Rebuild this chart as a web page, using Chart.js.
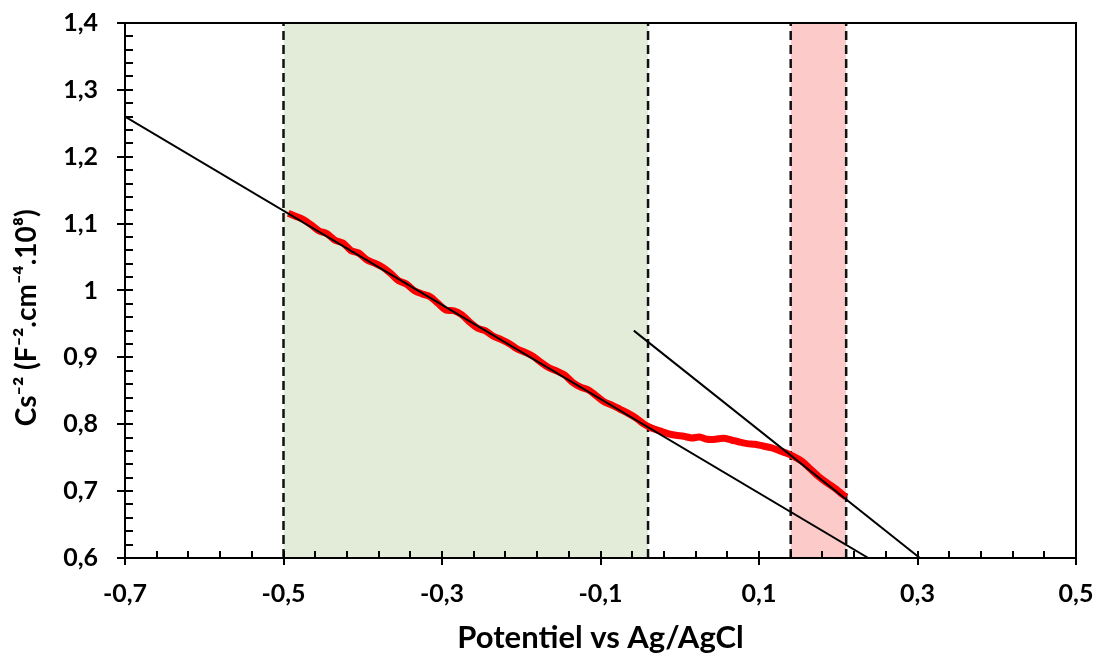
<!DOCTYPE html>
<html>
<head>
<meta charset="utf-8">
<script src="https://cdn.jsdelivr.net/npm/chart.js@4"></script>
<style>
  html, body { margin: 0; padding: 0; background: #fff; }
  #wrap { width: 1102px; height: 661px; }
</style>
</head>
<body>
<div id="wrap"><canvas id="mottChart"></canvas></div>
<script>
// measured curve (Mott-Schottky)
const potential = [-0.494, -0.485, -0.475, -0.465, -0.455, -0.445, -0.435, -0.425, -0.415, -0.405,
  -0.395, -0.385, -0.375, -0.365, -0.355, -0.345, -0.335, -0.325, -0.315, -0.305,
  -0.295, -0.285, -0.275, -0.265, -0.255, -0.245, -0.235, -0.225, -0.215, -0.205,
  -0.195, -0.185, -0.175, -0.165, -0.155, -0.145, -0.135, -0.125, -0.115, -0.105,
  -0.095, -0.085, -0.075, -0.065, -0.055, -0.045, -0.035, -0.025, -0.015, -0.005,
  0.005, 0.015, 0.025, 0.035, 0.045, 0.055, 0.065, 0.075, 0.085, 0.095,
  0.105, 0.115, 0.125, 0.135, 0.145, 0.155, 0.165, 0.175, 0.185, 0.195, 0.205, 0.210];
const csMinus2 = [1.1154, 1.1111, 1.1061, 1.0980, 1.0890, 1.0850, 1.0750, 1.0710, 1.0599, 1.0559,
  1.0459, 1.0409, 1.0349, 1.0258, 1.0148, 1.0098, 0.9998, 0.9948, 0.9907, 0.9807,
  0.9707, 0.9697, 0.9637, 0.9526, 0.9436, 0.9396, 0.9316, 0.9266, 0.9205, 0.9125,
  0.9075, 0.9015, 0.8925, 0.8844, 0.8794, 0.8734, 0.8624, 0.8554, 0.8513, 0.8423,
  0.8333, 0.8283, 0.8223, 0.8162, 0.8092, 0.8002, 0.7940, 0.7900, 0.7860, 0.7835,
  0.7820, 0.7795, 0.7810, 0.7775, 0.7775, 0.7790, 0.7765, 0.7735, 0.7710, 0.7700,
  0.7675, 0.7650, 0.7610, 0.7565, 0.7510, 0.7440, 0.7330, 0.7220, 0.7130, 0.7050, 0.6955, 0.6910];

// linear fits
const fit1X = [-0.7, 0.238];
const fit1Y = [1.26, 0.6];
const fit2X = [-0.058, 0.303];
const fit2Y = [0.94, 0.6];

// highlighted potential windows
const greenZone = [-0.5, -0.04];
const redZone = [0.14, 0.21];

const xTickValues = [-0.7, -0.5, -0.3, -0.1, 0.1, 0.3, 0.5];
const xTickLabels = ["-0,7", "-0,5", "-0,3", "-0,1", "0,1", "0,3", "0,5"];
const yTickValues = [0.6, 0.7, 0.8, 0.9, 1.0, 1.1, 1.2, 1.3, 1.4];
const yTickLabels = ["0,6", "0,7", "0,8", "0,9", "1", "1,1", "1,2", "1,3", "1,4"];

const FONT = "Lato, 'Open Sans', sans-serif";

function pts(xs, ys) {
  return xs.map((x, i) => ({ x: x, y: ys[i] }));
}
function zoneFill(z, color) {
  return {
    data: [{ x: z[0], y: 1.4 }, { x: z[1], y: 1.4 }],
    showLine: true, fill: "start", backgroundColor: color,
    borderWidth: 0, pointRadius: 0, order: 10
  };
}
function dashLine(x) {
  return {
    data: [{ x: x, y: 0.6 }, { x: x, y: 1.4 }],
    showLine: true, borderColor: "#111", borderWidth: 2.5, borderDash: [9, 5],
    pointRadius: 0, order: 8
  };
}
function minorSteps(min, max, step) {
  const out = [];
  const n = Math.round((max - min) / step);
  for (let i = 0; i <= n; i++) out.push(+(min + i * step).toFixed(3));
  return out;
}
function labelFor(v, values, labels) {
  const i = values.findIndex(t => Math.abs(t - v) < 1e-6);
  return i >= 0 ? labels[i] : "";
}
// let the layout padding alone decide where the plot box goes
function noOverhang(s) {
  s.paddingTop = 0; s.paddingBottom = 0; s.paddingLeft = 0; s.paddingRight = 0;
}

// axis box + major/minor tick marks
const frame = {
  id: "frame",
  afterDatasetsDraw(chart) {
    const { ctx, chartArea: a, scales } = chart;
    ctx.save();
    ctx.strokeStyle = "#000";
    ctx.lineWidth = 2;
    ctx.strokeRect(a.left, a.top, a.right - a.left, a.bottom - a.top);
    ctx.beginPath();
    scales.x.ticks.forEach(t => {
      const px = Math.round(scales.x.getPixelForValue(t.value));
      const major = labelFor(t.value, xTickValues, xTickLabels) !== "";
      ctx.moveTo(px, a.bottom - 7);
      ctx.lineTo(px, major ? a.bottom + 7 : a.bottom);
    });
    scales.y.ticks.forEach(t => {
      const py = Math.round(scales.y.getPixelForValue(t.value));
      const major = labelFor(t.value, yTickValues, yTickLabels) !== "";
      ctx.moveTo(major ? a.left - 8 : a.left, py);
      ctx.lineTo(a.left + 8, py);
    });
    ctx.stroke();
    ctx.restore();
  }
};

const ctx = document.getElementById("mottChart").getContext("2d");
const mottChart = new Chart(ctx, {
  type: "scatter",
  data: {
    datasets: [
      zoneFill(greenZone, "#e2ecd9"),
      zoneFill(redZone, "#fdcaca"),
      dashLine(greenZone[0]), dashLine(greenZone[1]),
      dashLine(redZone[0]), dashLine(redZone[1]),
      {
        data: pts(potential, csMinus2), showLine: true,
        borderColor: "#ff0000", borderWidth: 7, pointRadius: 0,
        tension: 0.3, order: 3
      },
      {
        data: pts(fit1X, fit1Y), showLine: true,
        borderColor: "#000", borderWidth: 2, pointRadius: 0, order: 1
      },
      {
        data: pts(fit2X, fit2Y), showLine: true,
        borderColor: "#000", borderWidth: 2, pointRadius: 0, order: 1
      }
    ]
  },
  options: {
    responsive: true,
    maintainAspectRatio: false,
    animation: false,
    layout: { padding: { top: 23, right: 26, left: 0, bottom: 0 } },
    plugins: { legend: { display: false }, tooltip: { enabled: false } },
    scales: {
      x: {
        type: "linear", min: -0.7, max: 0.5,
        afterBuildTicks: s => { s.ticks = minorSteps(-0.7, 0.5, 0.04).map(v => ({ value: v })); },
        afterFit: s => { s.height = 103; noOverhang(s); },
        grid: { display: false, drawTicks: false },
        border: { display: false },
        ticks: {
          autoSkip: false, maxRotation: 0, padding: 21, color: "#000",
          font: { family: FONT, size: 25, weight: "bold" },
          callback: v => labelFor(v, xTickValues, xTickLabels)
        },
        title: {
          display: true, text: "Potentiel vs Ag/AgCl", color: "#000",
          font: { family: FONT, size: 31, weight: "bold" }, padding: 4
        }
      },
      y: {
        type: "linear", min: 0.6, max: 1.4,
        afterBuildTicks: s => { s.ticks = minorSteps(0.6, 1.4, 0.02).map(v => ({ value: v })); },
        afterFit: s => { s.width = 125; noOverhang(s); },
        grid: { display: false, drawTicks: false },
        border: { display: false },
        ticks: {
          autoSkip: false, padding: 27, color: "#000",
          font: { family: FONT, size: 25, weight: "bold" },
          callback: v => labelFor(v, yTickValues, yTickLabels)
        },
        title: {
          display: true, text: "Cs⁻² (F⁻².cm⁻⁴.10⁸)        ", color: "#000",
          font: { family: FONT, size: 28, weight: "bold" }, padding: 10
        }
      }
    }
  },
  plugins: [frame]
});
</script>
</body>
</html>
